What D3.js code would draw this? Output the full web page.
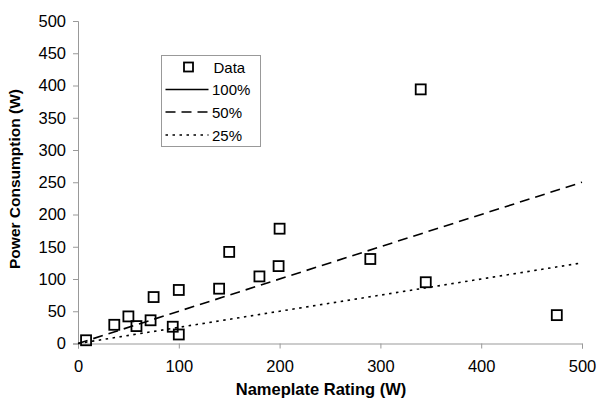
<!DOCTYPE html>
<html>
<head>
<meta charset="utf-8">
<script src="https://cdn.jsdelivr.net/npm/d3@7"></script>
<style>
  body { margin: 0; background: #fff; }
  text { font-family: "Liberation Sans", Arial, sans-serif; }
</style>
</head>
<body>
<svg id="chart" width="598" height="400"></svg>
<script>
// nameplate rating (W) vs measured power (W)
const rating = [8, 36, 50, 58, 72, 75, 94, 100, 100, 140, 150, 180, 199, 200, 290, 340, 345, 475];
const power = [5, 29, 42, 27, 36, 72, 26, 83, 14, 85, 142, 104, 120, 178, 131, 394, 95, 44];
const fractions = [1, 0.5, 0.25];
const legendLabels = ['Data', '100%', '50%', '25%'];
const xTicks = [0, 100, 200, 300, 400, 500];
const yTicks = [0, 50, 100, 150, 200, 250, 300, 350, 400, 450, 500];

const svg = d3.select('#chart');
const x = d3.scaleLinear().domain([0, 500]).range([78, 582]);
const y = d3.scaleLinear().domain([0, 500]).range([343.5, 21]);

// axes
const xAxis = svg.append('g')
  .attr('transform', `translate(0,${y(0)})`)
  .call(d3.axisBottom(x).tickValues(xTicks).tickSize(5).tickPadding(12));
const yAxis = svg.append('g')
  .attr('transform', `translate(${x(0)},0)`)
  .call(d3.axisLeft(y).tickValues(yTicks).tickSize(5).tickPadding(7));
[xAxis, yAxis].forEach(a => {
  a.selectAll('path, line').attr('stroke', '#999').attr('stroke-width', 1);
  a.selectAll('text').attr('font-size', 16.5).attr('fill', '#000')
    .style('font-family', '"Liberation Sans", Arial, sans-serif');
});

// reference lines (100% appears in the legend only)
const dashes = { 1: null, 0.5: '10,6', 0.25: '2.5,4.5' };
fractions.filter(f => f < 1).forEach(f => {
  svg.append('line')
    .attr('x1', x(0)).attr('y1', y(0))
    .attr('x2', x(500)).attr('y2', y(500 * f))
    .attr('stroke', '#000').attr('stroke-width', 1.6)
    .attr('stroke-dasharray', dashes[f]);
});

// data markers
const sz = 10;
svg.append('g').selectAll('rect')
  .data(rating.map((r, i) => [r, power[i]]))
  .join('rect')
  .attr('x', d => x(d[0]) - sz / 2)
  .attr('y', d => y(d[1]) - sz / 2)
  .attr('width', sz).attr('height', sz)
  .attr('fill', 'none').attr('stroke', '#000').attr('stroke-width', 1.8);

// axis titles
svg.append('text')
  .attr('x', 321).attr('y', 395)
  .attr('text-anchor', 'middle')
  .attr('font-size', 16.5).attr('font-weight', 'bold')
  .text('Nameplate Rating (W)');
svg.append('text')
  .attr('transform', 'translate(20,179) rotate(-90)')
  .attr('text-anchor', 'middle')
  .attr('font-size', 15.5).attr('font-weight', 'bold')
  .text('Power Consumption (W)');

// legend
const lg = svg.append('g');
lg.append('rect')
  .attr('x', 161.5).attr('y', 55.5).attr('width', 99).attr('height', 91)
  .attr('fill', '#fff').attr('stroke', '#999').attr('stroke-width', 1);
const rowY = [67, 89.5, 112, 135];
legendLabels.forEach((lab, i) => {
  const ry = rowY[i];
  if (i === 0) {
    lg.append('rect')
      .attr('x', 188.5 - 4.5).attr('y', ry - 4.5).attr('width', 9).attr('height', 9)
      .attr('fill', 'none').attr('stroke', '#000').attr('stroke-width', 1.8);
  } else {
    lg.append('line')
      .attr('x1', 165.5).attr('x2', 208.5).attr('y1', ry).attr('y2', ry)
      .attr('stroke', '#000').attr('stroke-width', 1.6)
      .attr('stroke-dasharray', dashes[fractions[i - 1]]);
  }
  lg.append('text')
    .attr('x', i === 0 ? 213.5 : 212).attr('y', ry + 5.5)
    .attr('font-size', 15)
    .text(lab);
});
</script>
</body>
</html>
